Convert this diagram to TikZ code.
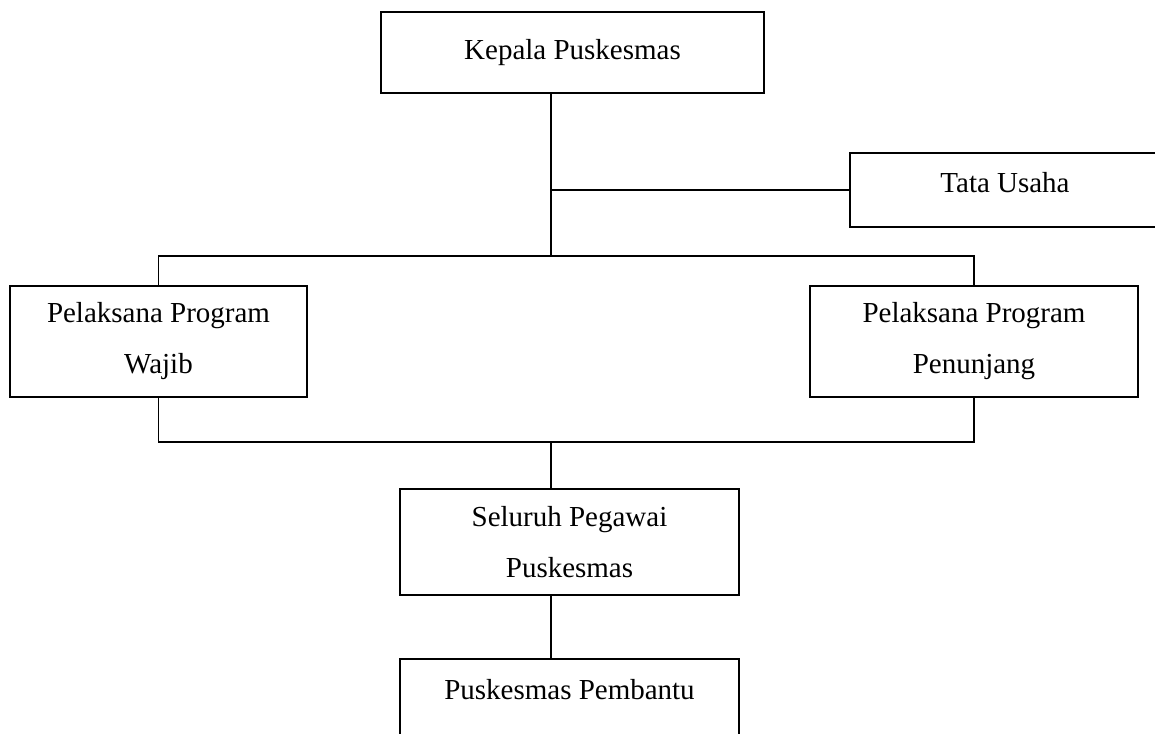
\documentclass[tikz,border=0pt]{standalone}
\usepackage{fontspec}
\setmainfont{Liberation Serif}
\begin{document}
\begin{tikzpicture}[x=0.02cm,y=-0.02cm,line width=0.8pt,
  unitbox/.style={draw,rectangle,inner sep=0pt,align=center,
    font=\fontsize{16.5}{29}\selectfont}]
\useasboundingbox (0,0) rectangle (1155,733);
\clip (0,0) rectangle (1155,733);
% boxes
\node[unitbox,minimum width=7.66cm,minimum height=1.62cm] (kepala) at (572.5,52.5) {Kepala Puskesmas};
\node[unitbox,minimum width=6.2cm,minimum height=1.48cm,text depth=8.5pt] (tatausaha) at (1005,190) {Tata Usaha};
\node[unitbox,minimum width=5.94cm,minimum height=2.22cm] (wajib) at (158.5,341.5) {Pelaksana Program\\Wajib};
\node[unitbox,minimum width=6.56cm,minimum height=2.22cm] (penunjang) at (974,341.5) {Pelaksana Program\\Penunjang};
\node[unitbox,minimum width=6.78cm,minimum height=2.12cm] (pegawai) at (569.5,542) {Seluruh Pegawai\\Puskesmas};
\node[unitbox,minimum width=6.78cm,minimum height=1.6cm,text depth=10.4pt] (pembantu) at (569.5,699) {Puskesmas Pembantu};
%
% connectors
\coordinate (busup) at (551,256);
\coordinate (busdown) at (551,442);
\draw (kepala.south -| busup) -- (busup);
\draw (busup |- tatausaha.west) -- (tatausaha.west);
\draw (wajib.north) |- (busup) -| (penunjang.north);
\draw (wajib.south) |- (busdown) -| (penunjang.south);
\draw (busdown) -- (pegawai.north -| busdown);
\draw (pegawai.south -| busdown) -- (pembantu.north -| busdown);
\end{tikzpicture}
\end{document}
